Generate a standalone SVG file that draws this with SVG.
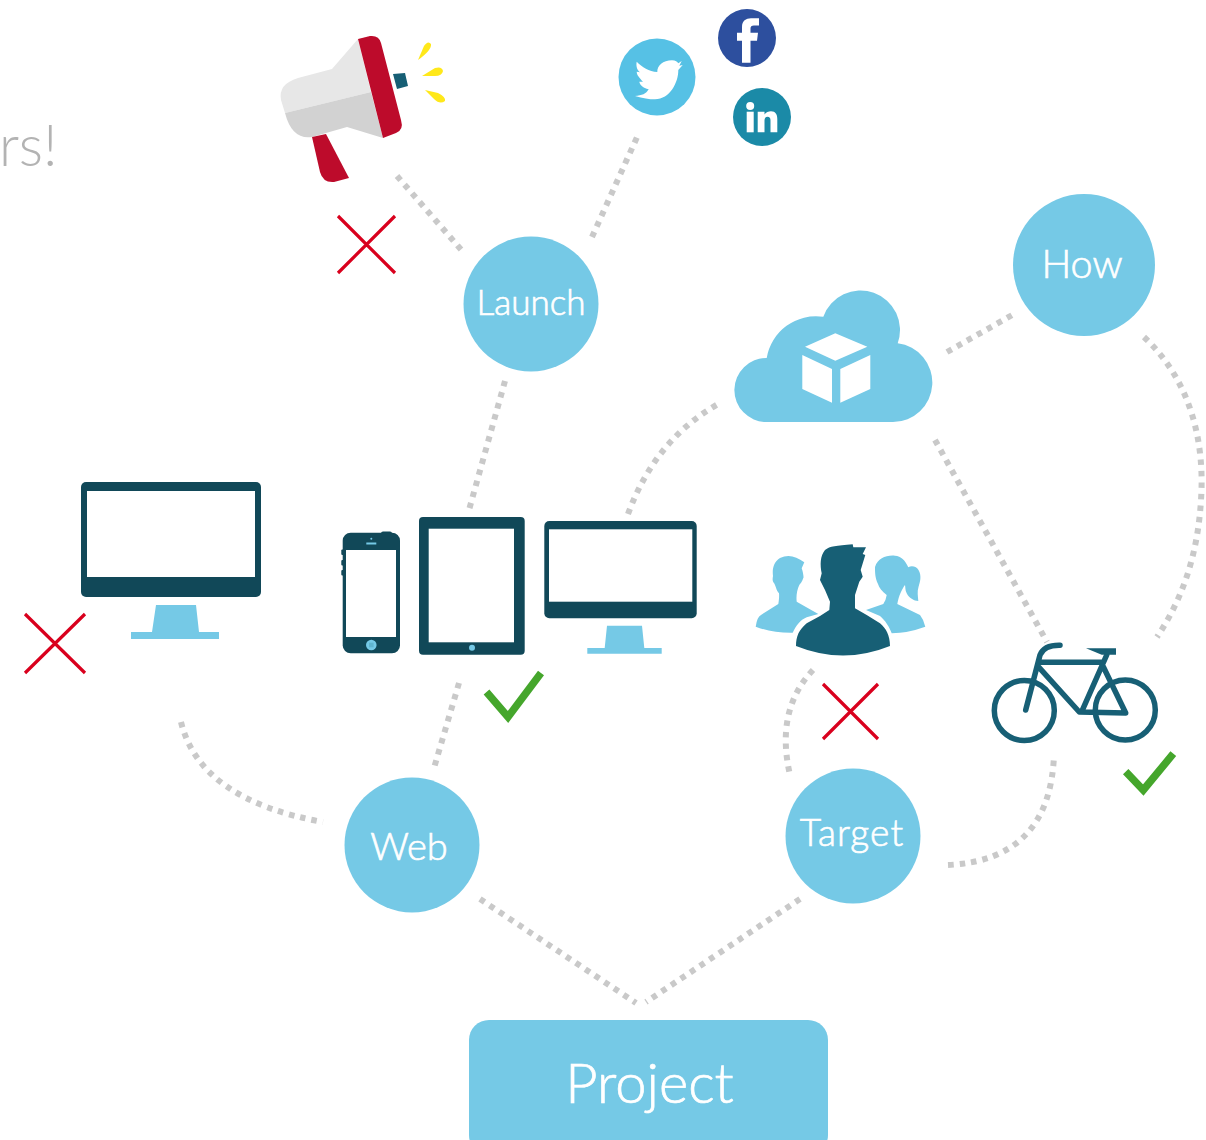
<svg xmlns="http://www.w3.org/2000/svg" width="1206" height="1140" viewBox="0 0 1206 1140">
<style>
text{font-family:"Lato","Open Sans","Liberation Sans",sans-serif;font-weight:300;stroke:#fff;stroke-width:.7}
.lbl{fill:#fff;font-size:35px;text-anchor:middle}
.c{fill:#75c9e6}
.d{fill:#114858}
.t{fill:#175f75}
.w{fill:#fff}
.x{stroke:#d9001d;stroke-width:3.200;fill:none}
.ok{stroke:#45a62c;stroke-width:7.500;fill:none}
.bk{stroke:#175f75;stroke-width:5.500;fill:none;stroke-linecap:round;stroke-linejoin:round}
#connectors path{fill:none;stroke:#c9c9c9;stroke-width:6;stroke-dasharray:5.500 6}
</style>
<rect width="1206" height="1140" fill="#fff"/>
<text x="-1" y="166" style="font-size:57px;fill:#b3b3b3;stroke:none">rs!</text>
<g id="connectors">
<path d="M397,176L464,253"/>
<path d="M592,237L638,135"/>
<path d="M505,381L469,510"/>
<path d="M628,514Q655,440 718,404"/>
<path d="M947,352L1014,314"/>
<path d="M1144,337C1190,380 1205,440 1201,500C1198,550 1185,595 1157,637"/>
<path d="M935,440L1047,642"/>
<path d="M459,683L434,768"/>
<path d="M181,722Q200,800 323,822"/>
<path d="M813,670Q775,710 790,775"/>
<path d="M948,865Q1050,860 1054,755"/>
<path d="M480,899L636,1003"/>
<path d="M800,899L646,1002"/>
</g>
<g id="megaphone">
<path d="M358,39L332,69L298,78Q278,84 281,100L285,113L371,92Z" fill="#e7e7e7"/>
<path d="M285,113Q292,140 312,137L347,127L383,138L371,92Z" fill="#d2d2d2"/>
<path d="M312,137L326,134L349,178L334,182Q323,183 320,172Z" fill="#bd0b2b"/>
<path d="M358,39L370,36Q379,35 381,43L401,120Q404,130 396,133L383,138Z" fill="#bd0b2b"/>
<path d="M393,74L405,73L408,86L397,89Z" class="t"/>
<path d="M418,60L424,46Q428,40 431,44Q432,50 418,60Z" fill="#ffe81a"/>
<path d="M422,76L435,68Q442,66 443,71Q442,76 435,76Z" fill="#ffe81a"/>
<path d="M425,90L438,93Q446,97 445,101Q440,105 434,99Z" fill="#ffe81a"/>
</g>
<g id="twitter">
<circle cx="657" cy="77" r="38.500" fill="#56c1e5"/>
<path class="w" d="M672,60.300C675.500,60.300 677.500,62 678.300,63.300L681.700,61L679.300,65.700L682.700,65L678.300,70C678.500,82 670,99.300 655,99.300C649,99.300 643,98.500 635,96C642,95.500 646,94 648.700,89.300C643,88 640,85 639.300,81.700L643,81.700C639.500,78 636.700,75 636.700,71.700L640,72.300C636.500,69.500 636,65 636.700,61.700C642,67 649,71.500 657.300,72C657,66 663,60.300 672,60.300Z"/>
</g>
<g id="facebook">
<circle cx="747" cy="38" r="29" fill="#2d4f9e"/>
<path class="w" d="M742,62.700V40.700H737V32.700H742V27C742,21 746,18.300 751,18.300H759V25.500H754C751.500,25.500 750.500,26.500 750.500,28.500V32.700H758L757,40.700H750.500V62.700Z"/>
</g>
<g id="linkedin">
<circle cx="762" cy="117" r="29" fill="#1b8aa7"/>
<circle class="w" cx="750.200" cy="106" r="4"/>
<rect class="w" x="746.700" y="111.700" width="7" height="20.600"/>
<path class="w" d="M757.700,111.700H764.500V114.500C766,112.500 768.500,111.300 771,111.300C775.500,111.300 777.300,114.500 777.300,119V132.300H770.500V120.500C770.500,118 769.500,116.800 767.500,116.800C765.500,116.800 764.500,118.300 764.500,120.500V132.300H757.700Z"/>
</g>
<g id="cross-megaphone"><path class="x" d="M338,216L395,273M395,216L338,273"/></g>
<g id="launch"><circle class="c" cx="531" cy="304" r="67.500"/><text class="lbl" x="531" y="315">Launch</text></g>
<g id="how"><circle class="c" cx="1084" cy="265" r="71"/><text class="lbl" x="1082" y="278" style="font-size:39.500px">How</text></g>
<g id="cloud">
<path class="c" d="M766,422A32,32 0 0 1 766.700,358A50,50 0 0 1 823.300,316.700A39.500,39.500 0 0 1 897.700,343.300A39.500,39.500 0 0 1 893,422Z"/>
<path class="w" d="M805,346.700L835.300,333.300L867.300,346.700L835.300,360.700ZM802.300,355L832,369V402.700L802.300,389ZM840.300,369L870.300,355V389L840.300,402.700Z"/>
</g>
<g id="monitor-left">
<rect class="d" x="81" y="482" width="180" height="115" rx="5"/>
<rect class="w" x="87" y="491" width="168" height="86"/>
<path class="c" d="M156,605H196L199,632H219V639H131V632H152Z"/>
</g>
<g id="cross-monitor"><path class="x" d="M25,614L85,673M85,614L25,673"/></g>
<g id="phone">
<rect class="d" x="381" y="531.500" width="11" height="4" rx="2"/>
<rect class="d" x="341.300" y="549.500" width="3" height="5.500" rx="1"/>
<rect class="d" x="341.300" y="560" width="3" height="5.500" rx="1"/>
<rect class="d" x="341.300" y="570" width="3" height="5.500" rx="1"/>
<rect class="d" x="342.700" y="532.700" width="57.300" height="120.600" rx="8"/>
<rect class="w" x="346" y="550" width="50" height="87"/>
<rect class="c" x="366.300" y="542.500" width="10" height="2"/>
<circle class="c" cx="371.300" cy="538.700" r="1"/>
<circle class="c" cx="371.300" cy="645" r="5.300"/>
<rect x="369" y="642.700" width="4.600" height="4.600" fill="#5fb4cf"/>
</g>
<g id="tablet">
<rect class="d" x="419" y="517" width="105.700" height="137.700" rx="4"/>
<rect class="w" x="428.700" y="528.700" width="85.300" height="113.600"/>
<circle class="c" cx="472" cy="647.700" r="3"/>
</g>
<g id="monitor">
<rect class="d" x="544.300" y="521" width="152.400" height="97.300" rx="5"/>
<rect class="w" x="549" y="529.300" width="143.300" height="72.400"/>
<path class="c" d="M607,625.700H642L644.300,648H661.700V653.700H587.300V648H604.700Z"/>
</g>
<g id="check-devices"><path class="ok" d="M486.500,692L508,717L541,673"/></g>
<g id="people">
<path class="c" d="M755.700,626.700Q757,617 761,615L778.300,604C779,600 779.300,596 779,593.300C776,590 776,586 774,583C772,581 772.700,578 773,576C772,568 774,562 780,558C788,554 796,556 804.300,562.300L801.700,568.300C803,572 804,578 803.300,578C802,582 800,584 799.300,585C797,590 796,596 796.700,601.700L818.300,614L806.700,617.300C800,620 796,626 792.700,632.700Q772,633 755.700,626.700Z"/>
<path class="c" d="M866,610L883.300,604Q886,600 886.700,595C882,591 879,588 878,584C875,578 875,572 875,567C878,558 886,555 895,555.700C901,556 905,560 908.300,567.300C912,565 917,567 918.500,570C922,576 920,582 918.500,587C917,592 918,596 918.300,601C914,601 909,598 906.700,593.300C905,590 905.500,587 905,585C902,589 899,595 897.300,604L920,615Q924,620 925.300,626.700Q908,633 891.700,633.300C890,628 885,620 880,616Z"/>
<path class="t" d="M796,646C796,636 799,630 806.700,623.300L820,616L829.300,610L830,601.700L825,590L820,580L821.700,573.300C820,565 820,556 825,550C830,546 836,546 852.700,544.300L853.300,547.300L866,547.300L862.700,554L865.300,555L860.700,570L862.700,576.700L859.300,581.700L855,595L855,608.300L866.700,615L880,623.300C886,628 890,636 890,646Q843,665 796,646Z"/>
</g>
<g id="cross-people"><path class="x" d="M823,684L878,739M878,684L823,739"/></g>
<g id="bike">
<circle class="bk" cx="1024.300" cy="710.500" r="30"/>
<circle class="bk" cx="1125.300" cy="710" r="30"/>
<path class="bk" d="M1025.700,710L1040,655Q1044,645 1060,645.300M1040,662.300H1103.300M1038.300,666.700L1079.300,712L1125.700,713L1103.300,666.700M1081.700,711.700L1106.700,655"/>
<path class="t" d="M1086,648.300H1116V654.700H1101.700Z"/>
</g>
<g id="check-bike"><path class="ok" d="M1125.700,771.700L1143.300,790L1173.300,753.700"/></g>
<g id="web"><circle class="c" cx="412" cy="845" r="67.500"/><text class="lbl" x="409" y="860" style="font-size:38px">Web</text></g>
<g id="target"><circle class="c" cx="853" cy="836" r="67.500"/><text class="lbl" x="852" y="846" style="font-size:37px;letter-spacing:1.100px">Target</text></g>
<g id="project"><rect class="c" x="469" y="1020" width="359" height="135" rx="20"/><text x="649.500" y="1103" style="font-size:56px;fill:#fff;text-anchor:middle">Project</text></g>
</svg>
